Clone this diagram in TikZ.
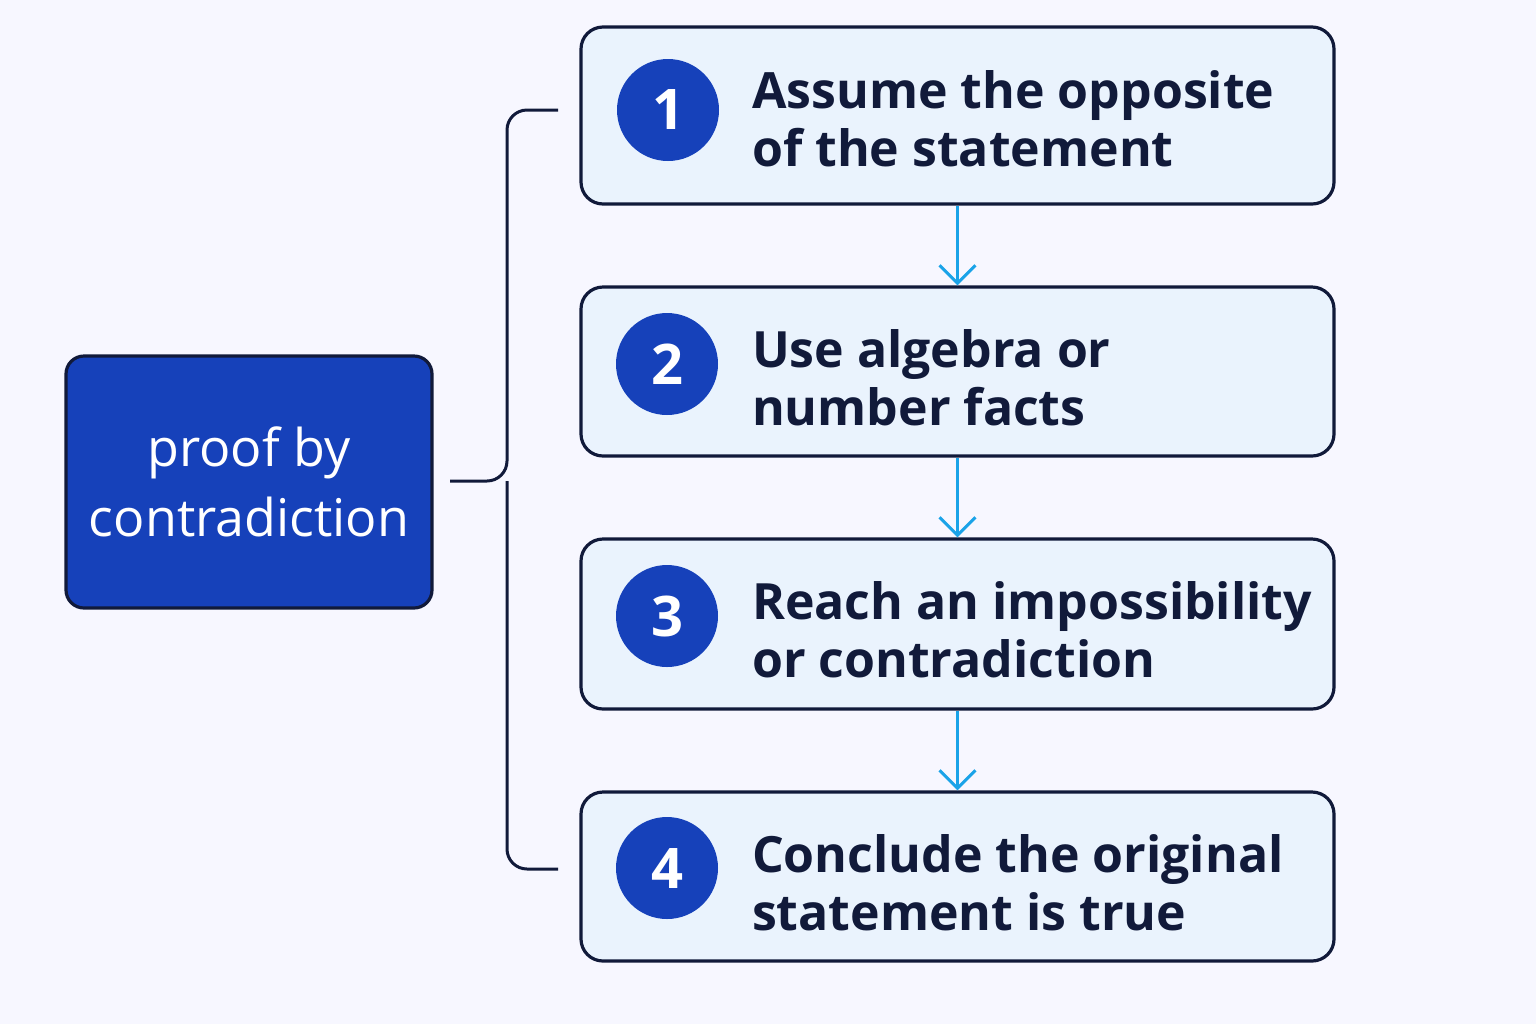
\documentclass[tikz,border=0pt]{standalone}
\usepackage{fontspec}
\setmainfont{Open Sans}
\usetikzlibrary{arrows.meta}
\definecolor{navy}{HTML}{111A3A}
\definecolor{royal}{HTML}{1641BA}
\definecolor{pale}{HTML}{EAF3FD}
\definecolor{sky}{HTML}{1AA3E8}
\begin{document}
\begin{tikzpicture}[x=0.5pt,y=-0.5pt,
 step/.style={draw=navy,line width=1.6pt,fill=pale,rounded corners=11pt,minimum width=376.5pt,minimum height=#1},
 num/.style={circle,fill=royal,minimum size=51pt,inner sep=0pt,text=white,font=\fontsize{28}{30}\selectfont\bfseries},
 lbl/.style={anchor=west,align=left,text=navy,font=\fontsize{25}{29}\selectfont\bfseries},
 flow/.style={draw=sky,line width=1.5pt,-{Straight Barb[length=9pt,width=18pt]}}]
\fill[white!97!blue] (0,0) rectangle (1536,1024);
\useasboundingbox (0,0) rectangle (1536,1024);
\node[draw=navy,line width=1.6pt,fill=royal,rounded corners=9pt,minimum width=183pt,minimum height=126pt,text=white,align=center,font=\fontsize{26}{35}\selectfont] (main) at (249,482) {proof by\\contradiction};
\node[step=88.5pt] (b1) at (957.5,115.5) {};
\node[step=84.5pt] (b2) at (957.5,371.5) {};
\node[step=85pt] (b3) at (957.5,624) {};
\node[step=84.5pt] (b4) at (957.5,876.5) {};
\node[num] (n1) at (668,110) {1};
\node[num] (n2) at (667,364) {2};
\node[num] (n3) at (667,616) {3};
\node[num] (n4) at (667,868) {4};
\node[lbl] (t1) at (745,119) {Assume the opposite\\of the statement};
\node[lbl] (t2) at (745,378) {Use algebra or\\number facts};
\node[lbl] (t3) at (745,630) {Reach an impossibility\\or contradiction};
\node[lbl] (t4) at (745,883) {Conclude the original\\statement is true};
\draw[flow] (b1.south) -- (b2.north);
\draw[flow] (b2.south) -- (b3.north);
\draw[flow] (b3.south) -- (b4.north);
\coordinate (k) at (450,481);
\coordinate (top) at (558,110);
\coordinate (bot) at (558,869);
\draw[navy,line width=1.5pt,rounded corners=10pt] (top) -- (507,110) -- (507,481) -- (k);
\draw[navy,line width=1.5pt,rounded corners=10pt] (bot) -- (507,869) -- (507,481);
\end{tikzpicture}
\end{document}
